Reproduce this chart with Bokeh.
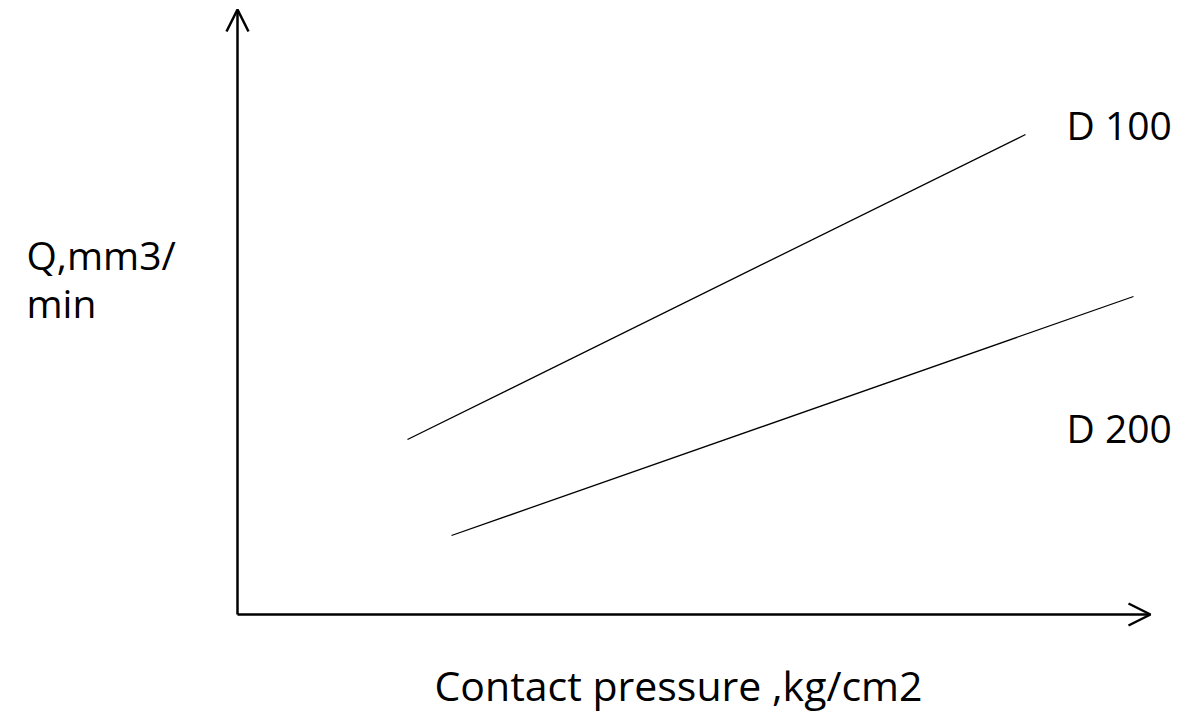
from bokeh.plotting import figure
from bokeh.models import Arrow, OpenHead, Range1d
from bokeh.core.properties import value
from bokeh.embed import file_html
from bokeh.resources import INLINE

# Data (arbitrary units: contact pressure vs Q)
series_names = ["D 100", "D 200"]
d100_pressure = [1.70, 7.88]
d100_q = [1.75, 4.80]
d200_pressure = [2.14, 8.96]
d200_q = [0.79, 3.18]
x_axis_end = 9.13
y_axis_end = 6.05
x_label = "Contact pressure ,kg/cm2"
y_label_lines = ["Q,mm3/", "min"]

W, H = 1174, 711
X0, Y0 = 237, 614  # pixel position of the origin


def sx(px):
    return (px - X0) / 100


def sy(py):
    return (Y0 - py) / 100


p = figure(width=W, height=H, output_backend="svg", toolbar_location=None,
           x_range=Range1d(sx(0), sx(W)), y_range=Range1d(sy(H), sy(0)),
           min_border=0)
p.axis.visible = False
p.grid.visible = False
p.outline_line_color = None
p.background_fill_color = "white"
p.border_fill_color = "white"

# axes with open arrow heads
p.add_layout(Arrow(end=OpenHead(size=22, line_width=2.5, line_color="black"),
                   x_start=0, y_start=0, x_end=x_axis_end, y_end=0,
                   line_width=2.5, line_color="black"))
p.add_layout(Arrow(end=OpenHead(size=22, line_width=2.5, line_color="black"),
                   x_start=0, y_start=0, x_end=0, y_end=y_axis_end,
                   line_width=2.5, line_color="black"))

p.line(d100_pressure, d100_q, line_color="black", line_width=1.3)
p.line(d200_pressure, d200_q, line_color="black", line_width=1.3)

font = value("Open Sans")
p.text(x=[sx(1066), sx(1066)], y=[sy(124), sy(427)],
       text=series_names, text_font=font, text_font_size=value("39px"),
       text_baseline="middle", text_align="left", text_color="black")
p.text(x=[sx(26), sx(26)], y=[sy(254), sy(302)],
       text=y_label_lines, text_font=font, text_font_size=value("39px"),
       text_baseline="middle", text_align="left", text_color="black")
p.text(x=[sx(678)], y=[sy(684)], text=[x_label],
       text_font=font, text_font_size=value("41px"),
       text_baseline="middle", text_align="center", text_color="black")

open("out.html", "w").write(file_html(p, INLINE))
